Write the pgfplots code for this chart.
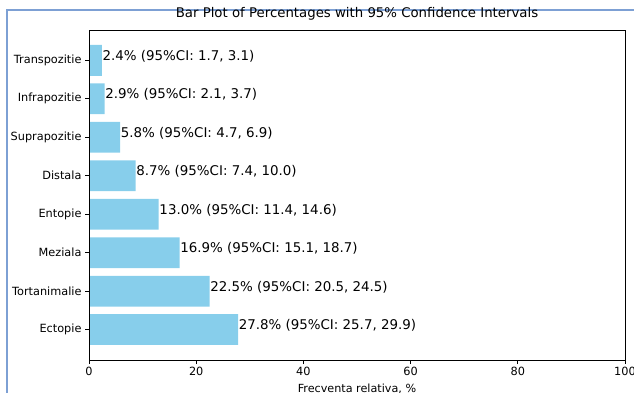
\documentclass[border=0pt]{standalone}
\usepackage{pgfplots}
\pgfplotsset{compat=1.18}
\usepackage{pgfplotstable}
\usepackage{fontspec}
\setmainfont{DejaVu Sans}

\definecolor{skyblue}{HTML}{87CEEB}
\definecolor{windowblue}{RGB}{125,160,212}

% relative frequencies (%) with 95% confidence bounds
\pgfplotstableread{
idx pct  lo   hi
0   27.8 25.7 29.9
1   22.5 20.5 24.5
2   16.9 15.1 18.7
3   13.0 11.4 14.6
4   8.7  7.4  10.0
5   5.8  4.7  6.9
6   2.9  2.1  3.7
7   2.4  1.7  3.1
}\freqdata

% one-decimal number in the text font
\newcommand{\onedec}[1]{\pgfmathprintnumber[fixed, fixed zerofill, precision=1, assume math mode=true]{#1}}

\begin{document}
\begin{tikzpicture}
\useasboundingbox (0,0) rectangle (634bp,393bp);
% window frame
\draw[windowblue, line width=1.3bp] (7bp,0) -- (7bp,383bp) -- (634bp,383bp);
\begin{axis}[
  at={(89bp,33bp)}, anchor=south west,
  scale only axis, width=536bp, height=330bp,
  xmin=0, xmax=100, ymin=-0.79, ymax=7.79,
  enlargelimits=false,
  xtick={0,20,...,100},
  ytick={0,...,7},
  yticklabels={Ectopie,Tortanimalie,Meziala,Entopie,Distala,Suprapozitie,Infrapozitie,Transpozitie},
  xtick pos=left, ytick pos=left,
  tick align=outside,
  major tick length=4bp,
  tick style={black, line width=0.9bp},
  axis line style={black, line width=0.9bp},
  ticklabel style={font=\fontsize{11.3bp}{13bp}\selectfont, text=black},
  /pgf/number format/assume math mode=true,
  title={Bar Plot of Percentages with 95\% Confidence Intervals},
  title style={font=\fontsize{13.3bp}{16bp}\selectfont, at={(axis description cs:0.5,1)}, anchor=base, yshift=7bp, inner sep=0pt},
  xlabel={Frecventa relativa, \%},
  xlabel style={font=\fontsize{11.2bp}{13bp}\selectfont, at={(axis description cs:0.5,0)}, anchor=base, yshift=-32.5bp, inner sep=0pt},
  axis on top,
  clip=false,
]
\addplot[xbar, bar width=0.8, bar shift=0pt, fill=skyblue, draw=none,
  point meta=x,
  visualization depends on={\thisrow{lo}\as\lo},
  visualization depends on={\thisrow{hi}\as\hi},
  nodes near coords={\onedec{\pgfplotspointmeta}\% (95\%CI: \onedec{\lo}, \onedec{\hi})},
  nodes near coords style={anchor=base west, inner sep=0pt, xshift=0.6bp,
    font=\fontsize{13.4bp}{16bp}\selectfont, text=black},
] table[x=pct, y=idx] {\freqdata};
\end{axis}
\end{tikzpicture}
\end{document}
